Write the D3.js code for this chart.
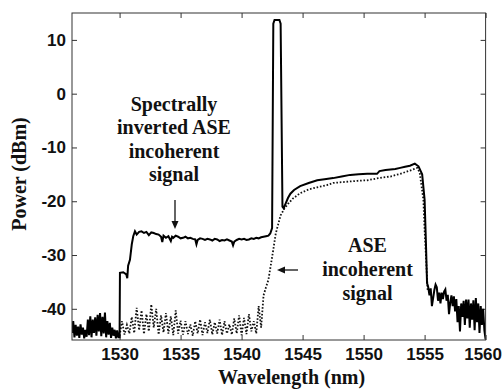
<!DOCTYPE html>
<html><head><meta charset="utf-8">
<script src="https://cdn.jsdelivr.net/npm/d3@7"></script>
<style>
html,body{margin:0;padding:0;background:#fff;}
svg{display:block;}
</style></head>
<body>
<svg id="chart" width="502" height="390"></svg>
<script>
// ---- Data ----
const xTicks = [1530, 1535, 1540, 1545, 1550, 1555, 1560];
const yTicks = [-40, -30, -20, -10, 0, 10];

// Spectrally inverted ASE incoherent signal (solid line)
const invWl = [
 1526.1,1526.2,1526.3,1526.4,1526.5,1526.6,1526.7,1526.8,1526.9,1527.0,
 1527.1,1527.2,1527.3,1527.4,1527.5,1527.6,1527.7,1527.8,1527.9,1528.0,
 1528.1,1528.2,1528.3,1528.4,1528.5,1528.6,1528.7,1528.8,1528.9,1529.0,
 1529.1,1529.2,1529.3,1529.4,1529.5,1529.6,1529.7,1529.8,1529.9,1530.0,
 1530.03,1530.3,1530.55,1530.63,1530.7,1530.85,1531.0,1531.12,1531.26,1531.4,
 1531.6,1531.8,1532.0,1532.2,1532.4,1532.6,1532.8,1533.0,1533.2,1533.4,
 1533.5,1533.6,1533.8,1534.0,1534.2,1534.3,1534.4,1534.6,1534.8,1535.0,
 1535.2,1535.4,1535.6,1535.8,1536.0,1536.2,1536.3,1536.4,1536.6,1536.8,
 1537.0,1537.2,1537.4,1537.6,1537.8,1538.0,1538.2,1538.4,1538.6,1538.8,
 1539.0,1539.2,1539.3,1539.4,1539.6,1539.8,1540.0,1540.2,1540.4,1540.6,
 1540.8,1541.0,1541.2,1541.4,1541.6,1541.8,1542.0,1542.2,1542.35,1542.5,
 1542.6,1542.7,1543.1,1543.2,1543.35,1543.45,1543.6,1543.8,1544.0,1544.3,
 1544.8,1545.5,1546.2,1546.8,1547.5,1548.2,1548.9,1549.6,1550.3,1551.1,
 1551.3,1551.8,1552.2,1552.6,1553.0,1553.4,1553.8,1554.2,1554.5,1554.8,
 1555.0,1555.1,1555.2,1555.3,1555.4,1555.5,1555.6,1555.7,1555.8,1555.9,
 1556.0,1556.1,1556.2,1556.3,1556.4,1556.5,1556.6,1556.7,1556.8,1556.9,
 1557.0,1557.1,1557.2,1557.3,1557.4,1557.5,1557.6,1557.7,1557.8,1557.9,
 1558.0,1558.1,1558.2,1558.3,1558.4,1558.5,1558.6,1558.7,1558.8,1558.9,
 1559.0,1559.1,1559.2,1559.3,1559.4,1559.5,1559.6,1559.7,1559.8,1559.9,1560.0
];
const invPw = [
 -44.5,-42.3,-45.3,-43.0,-45.0,-43.3,-45.4,-42.9,-44.8,-43.5,
 -45.5,-43.9,-45.2,-42.0,-44.9,-41.4,-45.3,-42.0,-44.5,-41.6,
 -45.0,-41.1,-44.2,-40.8,-45.1,-41.5,-44.6,-40.7,-45.3,-42.3,
 -44.8,-42.6,-45.4,-43.5,-45.0,-43.9,-45.5,-44.0,-45.3,-45.3,
 -33.3,-33.2,-33.6,-34.3,-32.0,-30.9,-28.0,-26.5,-25.6,-26.2,
 -25.7,-25.6,-25.9,-25.7,-26.3,-25.8,-25.9,-26.1,-26.2,-26.6,
 -27.6,-26.4,-26.8,-26.5,-27.4,-26.6,-26.8,-26.4,-26.6,-26.9,
 -26.8,-26.6,-26.9,-26.8,-27.0,-27.1,-28.0,-27.2,-26.9,-27.0,
 -27.2,-27.0,-27.1,-27.3,-27.0,-27.1,-27.4,-27.2,-27.3,-27.1,
 -27.3,-27.5,-28.2,-27.5,-27.2,-27.0,-27.1,-27.0,-27.2,-27.1,
 -26.9,-27.0,-26.8,-26.9,-26.7,-26.6,-26.5,-26.4,-26.0,-25.0,
 13.0,13.7,13.7,13.0,-21.0,-21.3,-20.5,-19.4,-18.6,-17.9,
 -17.2,-16.6,-16.1,-15.9,-15.7,-15.4,-15.1,-15.0,-14.9,-14.9,
 -14.4,-14.2,-14.1,-14.0,-13.8,-13.6,-13.4,-13.0,-13.5,-15.0,
 -19.7,-27.0,-35.2,-36.0,-37.5,-36.2,-39.5,-38.0,-36.5,-35.5,
 -36.0,-38.5,-37.0,-39.0,-37.0,-38.2,-36.8,-36.4,-38.5,-37.4,
 -41.0,-38.9,-37.5,-39.5,-37.7,-40.5,-38.2,-42.5,-39.5,-44.2,
 -39.0,-41.5,-38.5,-43.0,-38.3,-41.8,-38.3,-43.5,-39.0,-42.0,
 -38.4,-44.0,-38.0,-42.5,-39.0,-44.5,-39.5,-43.0,-40.0,-44.0,-45.7
];

// ASE incoherent signal (dotted line)
const aseWl = [
 1530.0,1530.2,1530.4,1530.6,1530.8,1531.0,1531.2,1531.4,1531.6,1531.8,
 1532.0,1532.2,1532.4,1532.6,1532.8,1533.0,1533.2,1533.4,1533.6,1533.8,
 1534.0,1534.2,1534.4,1534.6,1534.8,1535.0,1535.2,1535.4,1535.6,1535.8,
 1536.0,1536.2,1536.4,1536.6,1536.8,1537.0,1537.2,1537.4,1537.6,1537.8,
 1538.0,1538.2,1538.4,1538.6,1538.8,1539.0,1539.2,1539.4,1539.6,1539.8,
 1540.0,1540.2,1540.4,1540.6,1540.8,1541.0,1541.2,1541.4,1541.6,1541.8,
 1542.0,1542.2,1542.4,1542.6,1542.8,1543.0,1543.2,1543.5,1543.8,1544.2,
 1544.8,1545.5,1546.2,1547.0,1547.5,1548.5,1549.5,1550.3,1551.0,1551.5,
 1552.2,1553.0,1553.8,1554.4,1554.6,1554.9,1555.0,1555.15,1555.25,1555.4
];
const asePw = [
 -45.0,-42.3,-44.8,-43.0,-44.6,-41.5,-44.5,-39.8,-44.0,-40.3,
 -44.7,-41.0,-44.2,-39.2,-43.5,-40.0,-44.8,-41.2,-44.4,-40.8,
 -44.6,-41.4,-44.9,-40.3,-44.6,-42.2,-44.8,-42.3,-44.7,-42.9,
 -45.0,-42.3,-44.6,-42.0,-44.9,-42.5,-44.5,-42.0,-44.8,-42.5,
 -44.6,-42.0,-44.9,-42.3,-44.6,-42.9,-44.8,-41.8,-44.6,-41.2,
 -44.9,-41.7,-44.7,-41.0,-44.2,-42.3,-44.6,-39.5,-43.5,-37.5,
 -36.0,-34.6,-31.8,-29.0,-26.0,-24.3,-22.6,-21.4,-20.5,-19.5,
 -18.5,-17.8,-17.4,-17.0,-16.6,-16.4,-16.2,-16.1,-15.8,-15.6,
 -15.4,-14.9,-14.3,-13.8,-14.7,-19.7,-25.3,-32.0,-36.5,-37.0
];

// ---- Chart ----
const svg = d3.select('#chart');
const L = 72, R = 485.6, T = 13, B = 340;
const x = d3.scaleLinear().domain([1526.1, 1560]).range([L, R]);
const y = d3.scaleLinear().domain([-45.8, 15]).range([B, T]);

const tickFont = 'bold 17px "Liberation Sans", Arial, sans-serif';
const serif = '"Liberation Serif", "Times New Roman", serif';
const fmt = d => String(d);

function styleAxis(g, showText) {
  g.select('.domain').remove();
  g.selectAll('.tick line').attr('stroke', '#333').attr('stroke-width', 1);
  g.selectAll('.tick text').style('font', tickFont).attr('fill', '#111');
  if (!showText) g.selectAll('.tick text').remove();
}

svg.append('g').attr('transform', `translate(0,${B})`)
  .call(d3.axisBottom(x).tickValues(xTicks).tickSize(-5).tickPadding(8).tickFormat(fmt))
  .call(g => styleAxis(g, true))
  .call(g => g.selectAll('.tick text').filter(d => d === 1560).attr('dx', -3));
svg.append('g').attr('transform', `translate(0,${T})`)
  .call(d3.axisTop(x).tickValues(xTicks).tickSize(-5))
  .call(g => styleAxis(g, false));
svg.append('g').attr('transform', `translate(${L},0)`)
  .call(d3.axisLeft(y).tickValues(yTicks).tickSize(-5).tickPadding(6).tickFormat(fmt))
  .call(g => styleAxis(g, true));
svg.append('g').attr('transform', `translate(${R},0)`)
  .call(d3.axisRight(y).tickValues(yTicks).tickSize(-5))
  .call(g => styleAxis(g, false));

// clip
svg.append('clipPath').attr('id', 'clip').append('rect')
  .attr('x', L).attr('y', T).attr('width', R - L).attr('height', B - T);

const line = d3.line().x(d => x(d[0])).y(d => y(d[1]));
const aseData = aseWl.map((w, i) => [w, asePw[i]]);
const invData = invWl.map((w, i) => [w, invPw[i]]);

const plot = svg.append('g').attr('clip-path', 'url(#clip)');
plot.append('path').datum(aseData).attr('d', line)
  .attr('fill', 'none').attr('stroke', '#111').attr('stroke-width', 1.8)
  .attr('stroke-dasharray', '1.6,1.8');
plot.append('path').datum(invData).attr('d', line)
  .attr('fill', 'none').attr('stroke', '#000').attr('stroke-width', 2)
  .attr('stroke-linejoin', 'miter');

// frame
svg.append('rect').attr('x', L).attr('y', T).attr('width', R - L).attr('height', B - T)
  .attr('fill', 'none').attr('stroke', '#333').attr('stroke-width', 1);

// axis titles
svg.append('text').attr('x', 291.5).attr('y', 384).attr('text-anchor', 'middle')
  .style('font-family', serif).style('font-weight', 'bold').style('font-size', '20px')
  .attr('fill', '#111').text('Wavelength (nm)');
svg.append('text').attr('transform', 'translate(26,174) rotate(-90)').attr('text-anchor', 'middle')
  .style('font-family', serif).style('font-weight', 'bold').style('font-size', '20px')
  .attr('fill', '#111').text('Power (dBm)');

// annotations
function label(lines, cx, baseline, dy) {
  const t = svg.append('text').attr('text-anchor', 'middle')
    .style('font-family', serif).style('font-weight', 'bold').style('font-size', '20px')
    .attr('fill', '#111');
  lines.forEach((s, i) => t.append('tspan').attr('x', cx).attr('y', baseline + i * dy).text(s));
}
label(['Spectrally', 'inverted ASE', 'incoherent', 'signal'], 174, 111, 23.4);
label(['ASE', 'incoherent', 'signal'], 367.5, 252, 24);

function arrow(x1, y1, x2, y2) {
  const a = Math.atan2(y2 - y1, x2 - x1), len = 8, w = 3.5;
  svg.append('line').attr('x1', x1).attr('y1', y1)
    .attr('x2', x2 - Math.cos(a) * len * 0.8).attr('y2', y2 - Math.sin(a) * len * 0.8)
    .attr('stroke', '#111').attr('stroke-width', 1.3);
  const bx = x2 - Math.cos(a) * len, by = y2 - Math.sin(a) * len;
  const px = -Math.sin(a) * w, py = Math.cos(a) * w;
  svg.append('path').attr('d', `M${x2},${y2}L${bx + px},${by + py}L${bx - px},${by - py}Z`)
    .attr('fill', '#111');
}
arrow(175, 200, 175, 229);
arrow(298, 270, 277, 270);
</script>
</body></html>
